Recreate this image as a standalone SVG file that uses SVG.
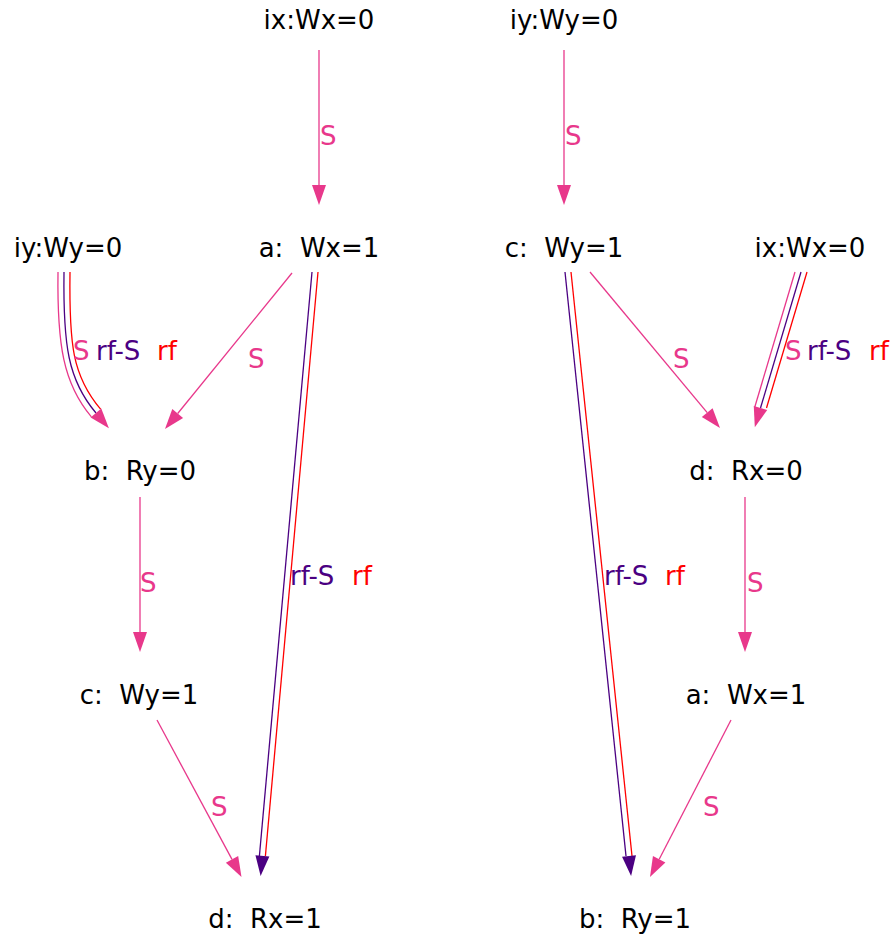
<svg xmlns="http://www.w3.org/2000/svg" xmlns:xlink="http://www.w3.org/1999/xlink" width="896" height="939" viewBox="0 0 896 939">
<style>
text{font-family:"DejaVu Sans","Noto Sans",sans-serif;font-size:26px;white-space:pre}
.n{text-anchor:middle;fill:#000}
.e{fill:none;stroke-width:1.3}
.spk{stroke:#e8388b}.spu{stroke:#4b0082}.srd{stroke:#ff0000}
.pk{fill:#e8388b}.pu{fill:#4b0082}.rd{fill:#ff0000}
</style>
<defs>
<path id="ah" d="M-20,-7 L0,0 L-20,7 z"/>
</defs>
<rect width="896" height="939" fill="#fff"/>
<g id="connectors">
<!-- left graph -->
<g id="e-ix-a"><path class="e spk" d="M319,50 L319,185"/><use xlink:href="#ah" class="pk" transform="translate(319,205) rotate(90)"/><text x="320" y="145" class="pk">S</text></g>
<g id="e-a-b"><path class="e spk" d="M292,273 L177.7,413.5"/><use xlink:href="#ah" class="pk" transform="translate(165,429) rotate(129.4)"/><text x="248" y="368" class="pk">S</text></g>
<g id="e-iy-b">
<path class="e spk" d="M58,272 C57,345 63.4,383.9 91.4,416.9"/>
<path class="e spu" d="M64,272 C63,345 68,380 96,413"/>
<path class="e srd" d="M70,272 C69,345 72.6,376.1 100.6,409.1"/>
<use xlink:href="#ah" class="pk" transform="translate(108.9,428.2) rotate(49.7)"/>
<text y="360"><tspan x="73" class="pk">S</tspan><tspan x="96" class="pu">rf-S</tspan><tspan x="157" class="rd">rf</tspan></text>
</g>
<g id="e-b-c"><path class="e spk" d="M140,497 L140,632"/><use xlink:href="#ah" class="pk" transform="translate(140,652) rotate(90)"/><text x="140" y="592" class="pk">S</text></g>
<g id="e-a-d">
<path class="e spu" d="M312,272 L259.4,856"/>
<path class="e srd" d="M318,272 L265.4,856"/>
<use xlink:href="#ah" class="pu" transform="translate(260.6,875.9) rotate(95.15)"/>
<text y="585"><tspan x="290" class="pu">rf-S</tspan><tspan x="352" class="rd">rf</tspan></text>
</g>
<g id="e-c-d"><path class="e spk" d="M157,720 L232,859.4"/><use xlink:href="#ah" class="pk" transform="translate(241.5,877) rotate(61.7)"/><text x="211" y="816" class="pk">S</text></g>
<!-- right graph -->
<g id="e-iy-c"><path class="e spk" d="M564,50 L564,185"/><use xlink:href="#ah" class="pk" transform="translate(564,205) rotate(90)"/><text x="565" y="145" class="pk">S</text></g>
<g id="e-c-d2"><path class="e spk" d="M590,272 L707.2,412.6"/><use xlink:href="#ah" class="pk" transform="translate(720,428) rotate(50.2)"/><text x="673" y="368" class="pk">S</text></g>
<g id="e-ix-d">
<path class="e spk" d="M795,272 L754.5,408"/>
<path class="e spu" d="M801,272 L760.5,408"/>
<path class="e srd" d="M807,272 L766.5,408"/>
<use xlink:href="#ah" class="pk" transform="translate(754.8,427.2) rotate(106.5)"/>
<text y="360"><tspan x="785" class="pk">S</tspan><tspan x="807" class="pu">rf-S</tspan><tspan x="869" class="rd">rf</tspan></text>
</g>
<g id="e-d-a"><path class="e spk" d="M745,497 L745,632"/><use xlink:href="#ah" class="pk" transform="translate(745,652) rotate(90)"/><text x="747" y="592" class="pk">S</text></g>
<g id="e-c-b">
<path class="e spu" d="M565,272 L626,856"/>
<path class="e srd" d="M571,272 L632,856"/>
<use xlink:href="#ah" class="pu" transform="translate(631.1,875.9) rotate(84.04)"/>
<text y="585"><tspan x="604" class="pu">rf-S</tspan><tspan x="665" class="rd">rf</tspan></text>
</g>
<g id="e-a-b2"><path class="e spk" d="M731,720 L659.2,859.2"/><use xlink:href="#ah" class="pk" transform="translate(650,877) rotate(117.3)"/><text x="703" y="816" class="pk">S</text></g>
</g>
<g id="L-ix"><text class="n" x="319" y="29">ix:Wx=0</text></g>
<g id="L-a"><text class="n" x="319" y="257">a:  Wx=1</text></g>
<g id="L-iy"><text class="n" x="68" y="257">iy:Wy=0</text></g>
<g id="L-b"><text class="n" x="140" y="480">b:  Ry=0</text></g>
<g id="L-c"><text class="n" x="139" y="704">c:  Wy=1</text></g>
<g id="L-d"><text class="n" x="265" y="928">d:  Rx=1</text></g>
<g id="R-iy"><text class="n" x="564" y="29">iy:Wy=0</text></g>
<g id="R-c"><text class="n" x="564" y="257">c:  Wy=1</text></g>
<g id="R-ix"><text class="n" x="810" y="257">ix:Wx=0</text></g>
<g id="R-d"><text class="n" x="746" y="480">d:  Rx=0</text></g>
<g id="R-a"><text class="n" x="746" y="704">a:  Wx=1</text></g>
<g id="R-b"><text class="n" x="635" y="928">b:  Ry=1</text></g>
</svg>
